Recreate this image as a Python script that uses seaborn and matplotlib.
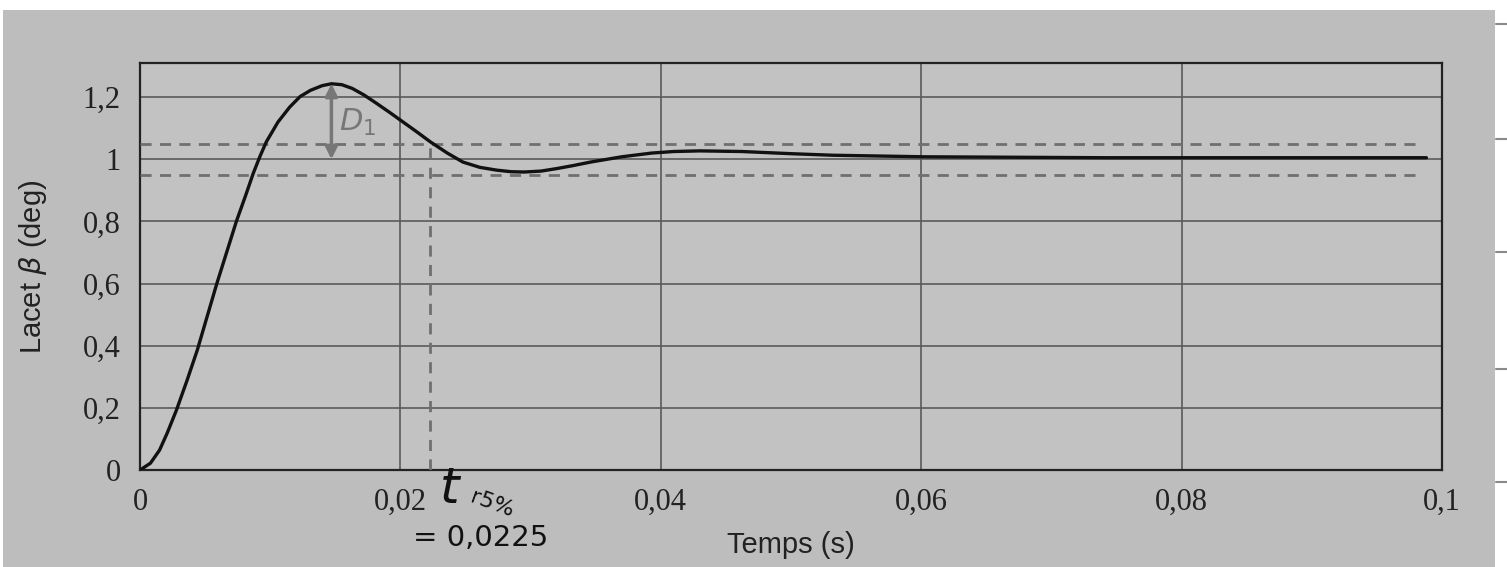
import matplotlib
matplotlib.use("Agg")
import matplotlib.pyplot as plt
import seaborn as sns
import pandas as pd

# Step response
temps = [0.0, 0.0008, 0.0015, 0.0021, 0.0028, 0.0036, 0.0044, 0.0059, 0.0074, 0.0081,
         0.0087, 0.0092, 0.0097, 0.0106, 0.0115, 0.0123, 0.0131, 0.0140, 0.0147,
         0.0155, 0.0163, 0.0172, 0.0182, 0.0192, 0.0202, 0.0213, 0.0223, 0.0236,
         0.0248, 0.0261, 0.0274, 0.0285, 0.0295, 0.0308, 0.0320, 0.0333, 0.0346,
         0.0370, 0.0393, 0.0410, 0.0430, 0.0462, 0.0500, 0.0532, 0.0602, 0.0742,
         0.0880, 0.0988]
lacet = [0.0, 0.022, 0.064, 0.120, 0.193, 0.287, 0.386, 0.600, 0.800, 0.882,
         0.955, 1.008, 1.056, 1.120, 1.168, 1.202, 1.222, 1.237, 1.243,
         1.240, 1.228, 1.207, 1.179, 1.150, 1.120, 1.087, 1.056, 1.020,
         0.991, 0.974, 0.965, 0.960, 0.959, 0.962, 0.970, 0.980, 0.991,
         1.008, 1.020, 1.025, 1.027, 1.025, 1.018, 1.013, 1.008, 1.005,
         1.005, 1.005]

x_ticks = [0, 0.02, 0.04, 0.06, 0.08, 0.1]
x_labels = ["0", "0,02", "0,04", "0,06", "0,08", "0,1"]
y_ticks = [0, 0.2, 0.4, 0.6, 0.8, 1.0, 1.2]
y_labels = ["0", "0,2", "0,4", "0,6", "0,8", "1", "1,2"]

band = [0.95, 1.05]      # +/- 5 % around the final value
t_r5 = 0.0223            # where the curve leaves the band
peak_t, peak_y = 0.0147, 1.243

df = pd.DataFrame({"t": temps, "beta": lacet})

sns.set_theme(style="white")
plt.rcParams["font.family"] = ["Liberation Serif", "DejaVu Serif"]

fig = plt.figure(figsize=(15.07, 5.67), dpi=100, facecolor="white")
# photographed page background
fig.patches.append(plt.Rectangle((0.002, 0.0), 0.99, 0.982, transform=fig.transFigure,
                                 facecolor="#bdbdbd", edgecolor="none", zorder=-10))
for yy in [0.958, 0.755, 0.555, 0.35, 0.15]:
    fig.lines.append(plt.Line2D([0.993, 1.0], [yy, yy], transform=fig.transFigure,
                                color="#8a8a8a", lw=1.5))

ax = fig.add_axes([0.0929, 0.171, 0.864, 0.718])
ax.set_facecolor("#c2c2c2")

sns.lineplot(data=df, x="t", y="beta", ax=ax, color="#111111", linewidth=2.4, zorder=5)

ax.set_xlim(0, 0.1)
ax.set_ylim(0, 1.31)
ax.set_xticks(x_ticks)
ax.set_xticklabels(x_labels, fontsize=22, color="#222222")
ax.set_yticks(y_ticks)
ax.set_yticklabels(y_labels, fontsize=22, color="#222222")
ax.tick_params(axis="x", length=0, pad=13)
ax.tick_params(axis="y", length=0, pad=14)
ax.grid(True, color="#5a5a5a", linewidth=1.2)
for s in ax.spines.values():
    s.set_color("#222222")
    s.set_linewidth(1.6)

ax.set_xlabel("Temps (s)", fontsize=21, family=["Liberation Sans", "DejaVu Sans"],
              color="#222222", labelpad=10)
ax.set_ylabel(r"Lacet $\beta$ (deg)", fontsize=21, family=["Liberation Sans", "DejaVu Sans"],
              color="#222222", labelpad=24)

# 5 % band and response time
for b in band:
    ax.plot([0, 0.0985], [b, b], color="#6f6f6f", linestyle=(0, (4, 3)), linewidth=2, zorder=4)
ax.plot([t_r5, t_r5], [0, band[1]], color="#6f6f6f", linestyle=(0, (4, 3)), linewidth=2, zorder=4)

# handwritten notes
ax.annotate("", xy=(peak_t, 1.0), xytext=(peak_t, peak_y),
            arrowprops=dict(arrowstyle="<|-|>", color="#777777", lw=2.5,
                            mutation_scale=18, shrinkA=0, shrinkB=0), zorder=6)
ax.text(0.0153, 1.12, r"$D_1$", fontsize=22, color="#777777",
        family=["DejaVu Sans"], va="center")
ax.text(0.0230, -0.06, "t", fontsize=36, color="#111111", family=["DejaVu Sans"],
        style="italic", va="center", clip_on=False)
ax.text(0.0252, -0.11, "r5%", fontsize=16, color="#111111", family=["DejaVu Sans"],
        rotation=-20, va="center", clip_on=False)
ax.text(0.0210, -0.22, "= 0,0225", fontsize=21, color="#111111", family=["DejaVu Sans"],
        va="center", clip_on=False)

fig.savefig("out.png", dpi=100, facecolor=fig.get_facecolor())
